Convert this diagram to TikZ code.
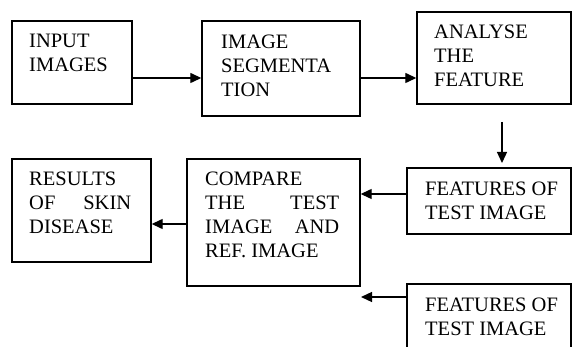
\documentclass[tikz,border=0pt]{standalone}
\usepackage{fontspec}
\setmainfont{Liberation Serif}[Scale=1.0]
\usetikzlibrary{arrows.meta}
\begin{document}
\begin{tikzpicture}[x=1pt,y=1pt,
  box/.style={draw=black,line width=1.4pt,rectangle,inner sep=0pt},
  txt/.style={anchor=base west,inner sep=0pt,font=\rmfamily\fontsize{20.5}{23.8}\selectfont},
  arr/.style={line width=1.3pt,-{Triangle[length=11pt,width=10pt]}}]
\useasboundingbox (0,0) rectangle (572,347);
\clip (0,0) rectangle (572,347);
% boxes
\node[box,minimum width=120pt,minimum height=83pt] (b1) at (72,284.5) {};
\node[box,minimum width=158pt,minimum height=95pt] (b2) at (281,278.5) {};
\node[box,minimum width=154pt,minimum height=92pt] (b3) at (494,289) {};
\node[box,minimum width=164pt,minimum height=66pt] (b4) at (489,146) {};
\node[box,minimum width=173pt,minimum height=127pt] (b5) at (273.5,124.5) {};
\node[box,minimum width=139pt,minimum height=103pt] (b6) at (81.5,136.5) {};
\node[box,minimum width=164pt,minimum height=83pt] (b7) at (489,21.5) {};
% texts
\node[txt] (t1) at (29,299) {\vtop{\hbox{INPUT}\hbox{IMAGES}}};
\node[txt] (t2) at (221,298) {\vtop{\hbox{IMAGE}\hbox{SEGMENTA}\hbox{TION}}};
\node[txt] (t3) at (434,308) {\vtop{\hbox{ANALYSE}\hbox{THE}\hbox{FEATURE}}};
\node[txt] (t4) at (425,151) {\vtop{\hbox{FEATURES OF}\hbox{TEST IMAGE}}};
\node[txt] (t5) at (205,161) {\vtop{\hbox{COMPARE}\hbox to 134pt{THE\hfill TEST}\hbox to 134pt{IMAGE\hfill AND}\hbox{REF. IMAGE}}};
\node[txt] (t6) at (29,161) {\vtop{\hbox{RESULTS}\hbox to 102pt{OF\hfill SKIN}\hbox{DISEASE}}};
\node[txt] (t7) at (425,35) {\vtop{\hbox{FEATURES OF}\hbox{TEST IMAGE}}};
% arrow levels
\coordinate (ya) at (0,269);
\coordinate (yb) at (0,153);
\coordinate (yc) at (0,123);
\coordinate (yd) at (0,50);
\coordinate (ds) at (502,225);
\coordinate (de) at (502,184);
\coordinate (fe) at (361,50);
% connectors
\draw[arr] (b1.east |- ya) -- (b2.west |- ya);
\draw[arr] (b2.east |- ya) -- (b3.west |- ya);
\draw[arr] (ds) -- (de);
\draw[arr] (b4.west |- yb) -- (b5.east |- yb);
\draw[arr] (b5.west |- yc) -- (b6.east |- yc);
\draw[arr] (b7.west |- yd) -- (fe);
\end{tikzpicture}
\end{document}
